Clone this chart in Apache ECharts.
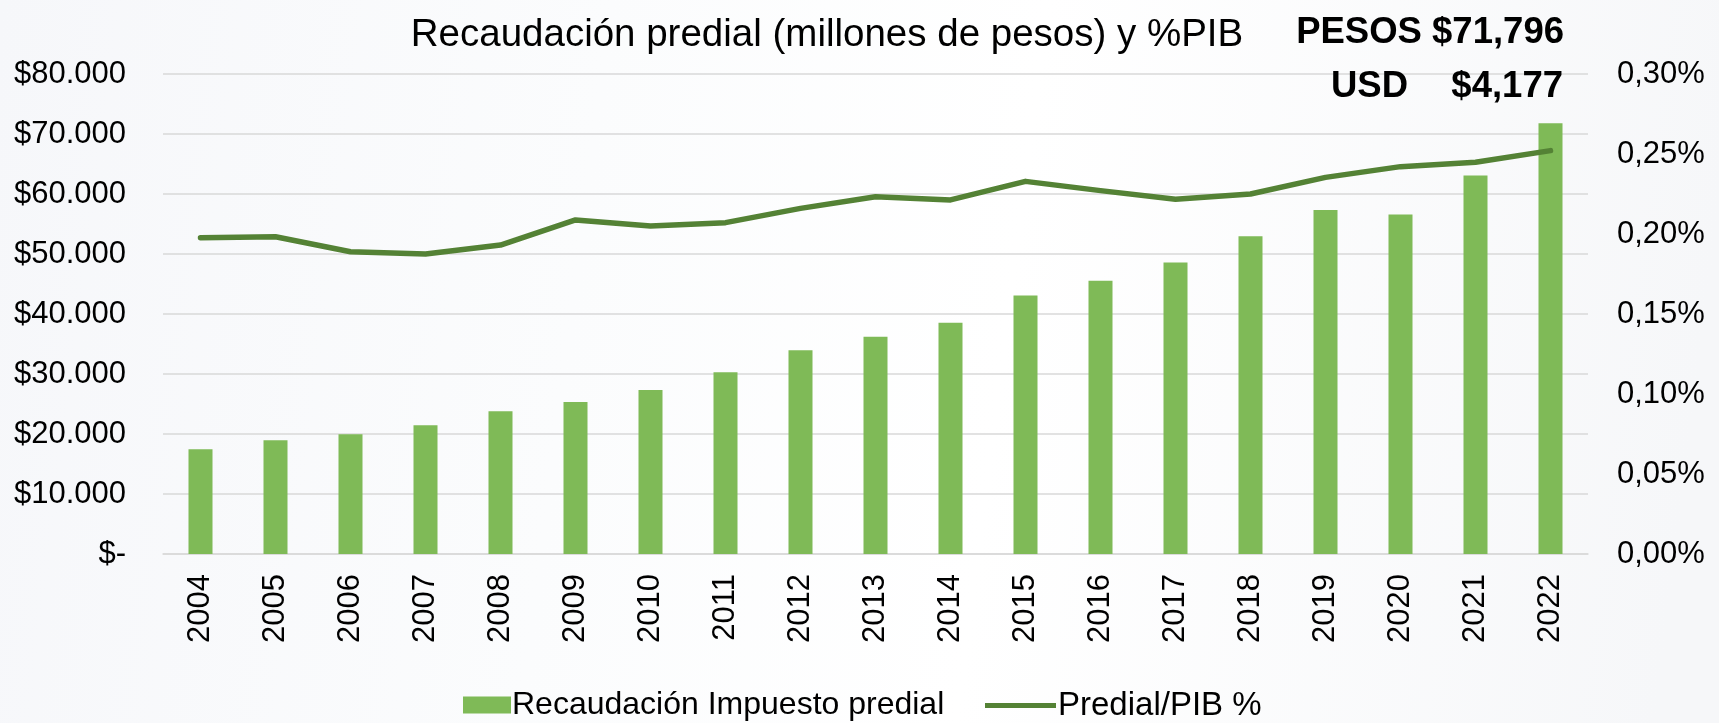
<!DOCTYPE html>
<html>
<head>
<meta charset="utf-8">
<script src="https://cdn.jsdelivr.net/npm/echarts@6/dist/echarts.min.js"></script>
<style>
html,body{margin:0;padding:0;width:1719px;height:723px;overflow:hidden;}
#chart{width:1719px;height:723px;}
</style>
</head>
<body>
<div id="chart"></div>
<script>
const years = ['2004','2005','2006','2007','2008','2009','2010','2011','2012','2013','2014','2015','2016','2017','2018','2019','2020','2021','2022'];
const recaudacion = [17450,18950,19950,21450,23780,25330,27330,30280,33950,36220,38550,43100,45550,48600,52950,57330,56600,63100,71796];
const predialPIB = [0.1977,0.1983,0.1889,0.1875,0.1931,0.2088,0.2050,0.2071,0.2160,0.2233,0.2213,0.2329,0.2271,0.2217,0.2250,0.2354,0.2421,0.2448,0.2521];
const seriesNames = ['Recaudación Impuesto predial','Predial/PIB %'];
const titleText = 'Recaudación predial (millones de pesos) y %PIB';
const pesosText = 'PESOS $71,796';
const usdLabel = 'USD';
const usdValue = '$4,177';

const FONT = 'Liberation Sans, Arial, sans-serif';
const chart = echarts.init(document.getElementById('chart'));

function fmtPesos(v){
  if (v === 0) return '$-';
  return '$' + String(Math.round(v)).replace(/\B(?=(\d{3})+(?!\d))/g, '.');
}
function fmtPct(v){
  return (v).toFixed(2).replace('.', ',') + '%';
}

chart.setOption({
  backgroundColor: {
    type: 'linear', x: 0, y: 0, x2: 1, y2: 0.3,
    colorStops: [
      {offset: 0, color: '#f6f7fa'},
      {offset: 0.35, color: '#fbfcfd'},
      {offset: 0.6, color: '#ffffff'},
      {offset: 1, color: '#f6f7f9'}
    ]
  },
  animation: false,
  textStyle: {fontFamily: FONT},
  title: [
    {text: titleText, left: 822, top: 11, textAlign: 'center',
     textStyle: {fontFamily: FONT, fontSize: 38.5, fontWeight: 'normal', color: '#000'}},
    {text: pesosText, right: 150, top: 9,
     textStyle: {fontFamily: FONT, fontSize: 36.5, fontWeight: 'bold', color: '#000'}},
    {text: usdLabel, left: 1326, top: 63,
     textStyle: {fontFamily: FONT, fontSize: 36.5, fontWeight: 'bold', color: '#000'}},
    {text: usdValue, right: 151, top: 63,
     textStyle: {fontFamily: FONT, fontSize: 36.5, fontWeight: 'bold', color: '#000'}}
  ],
  grid: {left: 163, right: 131, top: 74, bottom: 169, containLabel: false},
  legend: [
    {
      left: 458, top: 684,
      itemWidth: 48, itemHeight: 17, itemGap: 0,
      textStyle: {fontFamily: FONT, fontSize: 32, color: '#000', padding: [0,0,0,-4]},
      data: [{name: seriesNames[0], icon: 'rect'}]
    },
    {
      left: 980, top: 684,
      itemWidth: 71, itemHeight: 5, itemGap: 0,
      textStyle: {fontFamily: FONT, fontSize: 33, color: '#000', padding: [0,0,0,-3]},
      data: [{name: seriesNames[1], icon: 'rect'}]
    }
  ],
  xAxis: {
    type: 'category', data: years,
    axisTick: {show: false},
    axisLine: {show: true, lineStyle: {color: '#d9d9d9', width: 1.5}},
    axisLabel: {rotate: 90, margin: 20, fontSize: 31, color: '#000', fontFamily: FONT}
  },
  yAxis: [
    {type: 'value', min: 0, max: 80000, interval: 10000,
     axisLabel: {formatter: fmtPesos, fontSize: 31, color: '#000', margin: 37, fontFamily: FONT},
     splitLine: {lineStyle: {color: '#d9d9d9', width: 1.5}},
     axisLine: {show: false}, axisTick: {show: false}},
    {type: 'value', min: 0, max: 0.30, interval: 0.05,
     axisLabel: {formatter: fmtPct, fontSize: 31, color: '#000', margin: 29, fontFamily: FONT},
     splitLine: {show: false}, axisLine: {show: false}, axisTick: {show: false}}
  ],
  series: [
    {name: seriesNames[0], type: 'bar', data: recaudacion, yAxisIndex: 0,
     barWidth: 24, itemStyle: {color: '#7fba57'}},
    {name: seriesNames[1], type: 'line', data: predialPIB, yAxisIndex: 1,
     symbol: 'none', showSymbol: false,
     lineStyle: {color: '#548235', width: 5.5, cap: 'round', join: 'round'},
     itemStyle: {color: '#548235'}}
  ]
});
</script>
</body>
</html>
